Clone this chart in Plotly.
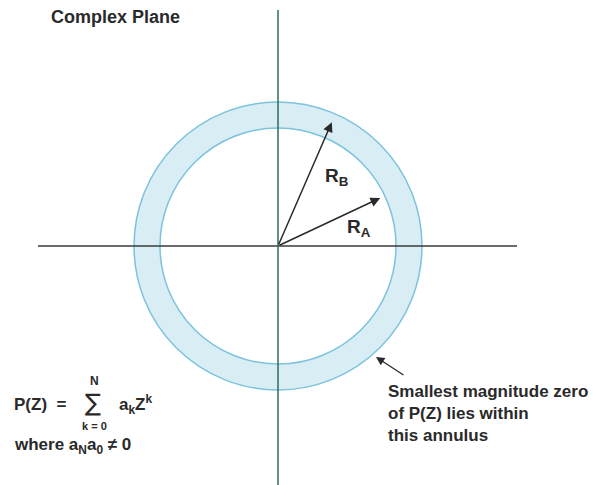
import numpy as np
import plotly.graph_objects as go

# ---- data (units: plane units, origin at centre) ----
outer_radius = 144
inner_radius = 118
radius_labels = ["R<sub>B</sub>", "R<sub>A</sub>"]
radius_lengths = [135, 113]
radius_angles_deg = [66.5, 25.2]
radius_label_pos = [(58, 69), (81, 18)]
real_axis_extent = [-240, 239]
imag_axis_extent = [-239, 236]

W, H = 605, 485
cx_px, cy_px = 278, 246
xr = [-cx_px, W - cx_px]
yr = [-(H - cy_px), cy_px]

FONT = "Liberation Sans, Arial, Helvetica, sans-serif"
TXT = "#2a2a2a"

fig = go.Figure()

# annulus: outer circle filled light blue, inner circle filled white
fig.add_shape(type="circle", xref="x", yref="y",
              x0=-outer_radius, y0=-outer_radius, x1=outer_radius, y1=outer_radius,
              fillcolor="#d9edf4", line=dict(color="#7cc3dc", width=1.5), layer="below")
fig.add_shape(type="circle", xref="x", yref="y",
              x0=-inner_radius, y0=-inner_radius, x1=inner_radius, y1=inner_radius,
              fillcolor="white", line=dict(color="#7cc3dc", width=1.5), layer="below")

# axes
fig.add_trace(go.Scatter(x=real_axis_extent, y=[0, 0], mode="lines",
                         line=dict(color="#3a3a3a", width=1.5), hoverinfo="skip"))
fig.add_trace(go.Scatter(x=[0, 0], y=imag_axis_extent, mode="lines",
                         line=dict(color="#2f6e55", width=1.5), hoverinfo="skip"))

# radius arrows
for lab, r, a, pos in zip(radius_labels, radius_lengths, radius_angles_deg, radius_label_pos):
    t = np.deg2rad(a)
    ex, ey = r * np.cos(t), r * np.sin(t)
    fig.add_annotation(x=ex, y=ey, ax=0, ay=0, xref="x", yref="y", axref="x", ayref="y",
                       showarrow=True, arrowhead=2, arrowsize=1.3, arrowwidth=1.5,
                       arrowcolor=TXT, text="")
    fig.add_annotation(x=pos[0], y=pos[1], xref="x", yref="y",
                       text=f"<b>{lab}</b>", showarrow=False,
                       font=dict(family=FONT, size=19, color=TXT))

# annulus pointer
fig.add_annotation(x=98, y=-111, ax=127, ay=-130, xref="x", yref="y", axref="x", ayref="y",
                   showarrow=True, arrowhead=2, arrowsize=1.3, arrowwidth=1.3,
                   arrowcolor=TXT, text="")
fig.add_annotation(x=108, y=-134, xref="x", yref="y", xanchor="left", yanchor="top",
                   align="left", showarrow=False,
                   text="<b>Smallest magnitude zero<br>of P(Z) lies within<br>this annulus</b>",
                   font=dict(family=FONT, size=17, color=TXT))


def px(x, y):
    return dict(x=x / W, y=1 - y / H, xref="paper", yref="paper")


# title
fig.add_annotation(**px(49, 17), showarrow=False, xanchor="left", yanchor="middle",
                   text="<b>Complex Plane</b>", font=dict(family=FONT, size=18, color=TXT))

# formula
fig.add_annotation(**px(12, 404), showarrow=False, xanchor="left", yanchor="middle",
                   text="<b>P(Z)  =</b>", font=dict(family=FONT, size=17, color=TXT))
fig.add_annotation(**px(93, 403), showarrow=False, xanchor="center", yanchor="middle",
                   text="∑", font=dict(family="DejaVu Sans", size=24, color=TXT))
fig.add_annotation(**px(94, 381), showarrow=False, xanchor="center", yanchor="middle",
                   text="<b>N</b>", font=dict(family=FONT, size=12, color=TXT))
fig.add_annotation(**px(94, 426), showarrow=False, xanchor="center", yanchor="middle",
                   text="<b>k = 0</b>", font=dict(family=FONT, size=11, color=TXT))
fig.add_annotation(**px(117, 404), showarrow=False, xanchor="left", yanchor="middle",
                   text="<b>a<sub>k</sub>Z<sup>k</sup></b>", font=dict(family=FONT, size=17, color=TXT))
fig.add_annotation(**px(12, 446), showarrow=False, xanchor="left", yanchor="middle",
                   text="<b>where a<sub>N</sub>a<sub>0</sub> ≠ 0</b>",
                   font=dict(family=FONT, size=17, color=TXT))

fig.update_xaxes(range=xr, visible=False, fixedrange=True)
fig.update_yaxes(range=yr, visible=False, fixedrange=True)
fig.update_layout(width=W, height=H, margin=dict(l=0, r=0, t=0, b=0),
                  showlegend=False, plot_bgcolor="white", paper_bgcolor="white")

fig.write_html("out.html", config={"displayModeBar": False},
               post_script="document.body.style.margin='0';")
